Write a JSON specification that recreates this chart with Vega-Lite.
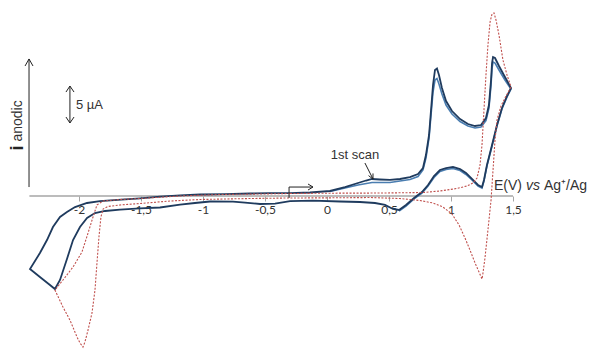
{
  "$schema": "https://vega.github.io/schema/vega-lite/v6.json",
  "width": 590,
  "height": 349,
  "padding": 0,
  "autosize": {"type": "none"},
  "background": "white",
  "config": {"view": {"stroke": null}},
  "datasets": {
    "cv": [
      {"s":"scan1","o":1,"v":-0.298,"i":0.39},{"s":"scan1","o":2,"v":-0.137,"i":0.46},{"s":"scan1","o":3,"v":0.024,"i":0.66},{"s":"scan1","o":4,"v":0.145,"i":1.18},{"s":"scan1","o":5,"v":0.25,"i":1.71},{"s":"scan1","o":6,"v":0.315,"i":2.04},{"s":"scan1","o":7,"v":0.363,"i":2.24},{"s":"scan1","o":8,"v":0.427,"i":2.17},{"s":"scan1","o":9,"v":0.508,"i":2.11},{"s":"scan1","o":10,"v":0.589,"i":2.24},
      {"s":"scan1","o":11,"v":0.669,"i":2.5},{"s":"scan1","o":12,"v":0.734,"i":2.89},{"s":"scan1","o":13,"v":0.774,"i":3.68},{"s":"scan1","o":14,"v":0.798,"i":5.39},{"s":"scan1","o":15,"v":0.823,"i":8.03},{"s":"scan1","o":16,"v":0.839,"i":11.32},{"s":"scan1","o":17,"v":0.855,"i":14.61},{"s":"scan1","o":18,"v":0.871,"i":16.58},{"s":"scan1","o":19,"v":0.887,"i":16.78},{"s":"scan1","o":20,"v":0.903,"i":15.92},
      {"s":"scan1","o":21,"v":0.927,"i":14.21},{"s":"scan1","o":22,"v":0.96,"i":12.5},{"s":"scan1","o":23,"v":1.008,"i":11.18},{"s":"scan1","o":24,"v":1.073,"i":10.13},{"s":"scan1","o":25,"v":1.137,"i":9.47},{"s":"scan1","o":26,"v":1.194,"i":9.21},{"s":"scan1","o":27,"v":1.242,"i":9.34},{"s":"scan1","o":28,"v":1.282,"i":10.26},{"s":"scan1","o":29,"v":1.306,"i":11.97},{"s":"scan1","o":30,"v":1.323,"i":15.26},
      {"s":"scan1","o":31,"v":1.331,"i":17.5},{"s":"scan1","o":32,"v":1.339,"i":18.29},{"s":"scan1","o":33,"v":1.355,"i":18.16},{"s":"scan1","o":34,"v":1.387,"i":17.11},{"s":"scan1","o":35,"v":1.435,"i":15.66},{"s":"scan1","o":36,"v":1.484,"i":14.21},{"s":"scan1","o":37,"v":1.452,"i":13.16},{"s":"scan1","o":38,"v":1.411,"i":11.58},{"s":"scan1","o":39,"v":1.371,"i":9.34},{"s":"scan1","o":40,"v":1.331,"i":6.71},
      {"s":"scan1","o":41,"v":1.29,"i":4.08},{"s":"scan1","o":42,"v":1.266,"i":2.11},{"s":"scan1","o":43,"v":1.25,"i":1.18},{"s":"scan1","o":44,"v":1.218,"i":1.45},{"s":"scan1","o":45,"v":1.169,"i":2.24},{"s":"scan1","o":46,"v":1.121,"i":3.03},{"s":"scan1","o":47,"v":1.073,"i":3.55},{"s":"scan1","o":48,"v":1.016,"i":3.82},{"s":"scan1","o":49,"v":0.96,"i":3.68},{"s":"scan1","o":50,"v":0.911,"i":3.42},
      {"s":"scan1","o":51,"v":0.863,"i":2.63},{"s":"scan1","o":52,"v":0.815,"i":1.45},{"s":"scan1","o":53,"v":0.766,"i":0.53},{"s":"scan1","o":54,"v":0.702,"i":-0.26},{"s":"scan1","o":55,"v":0.637,"i":-1.18},{"s":"scan1","o":56,"v":0.581,"i":-1.84},{"s":"scan1","o":57,"v":0.532,"i":-1.71},{"s":"scan1","o":58,"v":0.468,"i":-1.18},{"s":"scan1","o":59,"v":0.387,"i":-0.92},{"s":"scan1","o":60,"v":0.266,"i":-0.79},
      {"s":"scan1","o":61,"v":0.105,"i":-0.72},{"s":"scan1","o":62,"v":-0.113,"i":-0.62},{"s":"scan1","o":63,"v":-0.298,"i":-0.66},{"s":"scan1","o":64,"v":-0.419,"i":-0.99},{"s":"scan1","o":65,"v":-0.54,"i":-1.05},{"s":"scan1","o":66,"v":-0.661,"i":-0.86},{"s":"scan1","o":67,"v":-0.758,"i":-0.75},{"s":"scan1","o":68,"v":-0.944,"i":-0.72},{"s":"scan1","o":69,"v":-1.065,"i":-0.92},{"s":"scan1","o":70,"v":-1.185,"i":-1.12},
      {"s":"scan1","o":71,"v":-1.347,"i":-1.51},{"s":"scan1","o":72,"v":-1.508,"i":-1.64},{"s":"scan1","o":73,"v":-1.669,"i":-1.78},{"s":"scan1","o":74,"v":-1.79,"i":-1.97},{"s":"scan1","o":75,"v":-1.871,"i":-2.24},{"s":"scan1","o":76,"v":-1.935,"i":-2.89},{"s":"scan1","o":77,"v":-1.992,"i":-4.08},{"s":"scan1","o":78,"v":-2.048,"i":-5.79},{"s":"scan1","o":79,"v":-2.097,"i":-8.29},{"s":"scan1","o":80,"v":-2.153,"i":-11.05},
      {"s":"scan1","o":81,"v":-2.194,"i":-12.24},{"s":"scan1","o":82,"v":-2.234,"i":-11.71},{"s":"scan1","o":83,"v":-2.315,"i":-10.66},{"s":"scan1","o":84,"v":-2.395,"i":-9.61},{"s":"scan1","o":85,"v":-2.315,"i":-7.5},{"s":"scan1","o":86,"v":-2.258,"i":-5.79},{"s":"scan1","o":87,"v":-2.21,"i":-4.08},{"s":"scan1","o":88,"v":-2.153,"i":-2.76},{"s":"scan1","o":89,"v":-2.097,"i":-2.11},{"s":"scan1","o":90,"v":-2.032,"i":-1.45},
      {"s":"scan1","o":91,"v":-1.935,"i":-0.92},{"s":"scan1","o":92,"v":-1.831,"i":-0.66},{"s":"scan1","o":93,"v":-1.629,"i":-0.43},{"s":"scan1","o":94,"v":-1.508,"i":-0.3},{"s":"scan1","o":95,"v":-1.347,"i":-0.07},{"s":"scan1","o":96,"v":-1.185,"i":0.09},{"s":"scan1","o":97,"v":-1.024,"i":0.2},{"s":"scan1","o":98,"v":-0.823,"i":0.26},{"s":"scan1","o":99,"v":-0.621,"i":0.33},{"s":"scan1","o":100,"v":-0.46,"i":0.37},{"s":"scan1","o":101,"v":-0.298,"i":0.39},

      {"s":"scan2","o":1,"v":0.024,"i":0.59},{"s":"scan2","o":2,"v":0.145,"i":1.05},{"s":"scan2","o":3,"v":0.25,"i":1.45},{"s":"scan2","o":4,"v":0.363,"i":1.78},{"s":"scan2","o":5,"v":0.508,"i":1.78},{"s":"scan2","o":6,"v":0.669,"i":2.17},{"s":"scan2","o":7,"v":0.734,"i":2.57},{"s":"scan2","o":8,"v":0.774,"i":3.42},{"s":"scan2","o":9,"v":0.798,"i":5.0},{"s":"scan2","o":10,"v":0.823,"i":7.63},
      {"s":"scan2","o":11,"v":0.839,"i":10.66},{"s":"scan2","o":12,"v":0.855,"i":13.68},{"s":"scan2","o":13,"v":0.871,"i":15.26},{"s":"scan2","o":14,"v":0.887,"i":15.46},{"s":"scan2","o":15,"v":0.903,"i":14.74},{"s":"scan2","o":16,"v":0.927,"i":13.42},{"s":"scan2","o":17,"v":0.96,"i":11.97},{"s":"scan2","o":18,"v":1.008,"i":10.79},{"s":"scan2","o":19,"v":1.073,"i":9.8},{"s":"scan2","o":20,"v":1.137,"i":9.21},
      {"s":"scan2","o":21,"v":1.194,"i":8.95},{"s":"scan2","o":22,"v":1.242,"i":9.08},{"s":"scan2","o":23,"v":1.282,"i":9.93},{"s":"scan2","o":24,"v":1.306,"i":11.58},{"s":"scan2","o":25,"v":1.323,"i":14.61},{"s":"scan2","o":26,"v":1.331,"i":16.84},{"s":"scan2","o":27,"v":1.339,"i":17.63},{"s":"scan2","o":28,"v":1.355,"i":17.5},{"s":"scan2","o":29,"v":1.387,"i":16.58},{"s":"scan2","o":30,"v":1.435,"i":15.26},
      {"s":"scan2","o":31,"v":1.484,"i":14.08},{"s":"scan2","o":32,"v":1.452,"i":13.03},{"s":"scan2","o":33,"v":1.411,"i":11.45},{"s":"scan2","o":34,"v":1.371,"i":9.21},{"s":"scan2","o":35,"v":1.331,"i":6.58},{"s":"scan2","o":36,"v":1.29,"i":3.95},{"s":"scan2","o":37,"v":1.266,"i":1.97},{"s":"scan2","o":38,"v":1.25,"i":1.05},{"s":"scan2","o":39,"v":1.218,"i":1.32},{"s":"scan2","o":40,"v":1.169,"i":2.11},
      {"s":"scan2","o":41,"v":1.121,"i":2.83},{"s":"scan2","o":42,"v":1.073,"i":3.36},{"s":"scan2","o":43,"v":1.016,"i":3.62},{"s":"scan2","o":44,"v":0.96,"i":3.49},{"s":"scan2","o":45,"v":0.911,"i":3.22},{"s":"scan2","o":46,"v":0.863,"i":2.43},{"s":"scan2","o":47,"v":0.815,"i":1.32},{"s":"scan2","o":48,"v":0.766,"i":0.39},{"s":"scan2","o":49,"v":0.702,"i":-0.39},{"s":"scan2","o":50,"v":0.637,"i":-1.32},{"s":"scan2","o":51,"v":0.581,"i":-1.97},

      {"s":"red","o":1,"v":-0.298,"i":0.33},{"s":"red","o":2,"v":0.024,"i":0.37},{"s":"red","o":3,"v":0.427,"i":0.39},{"s":"red","o":4,"v":0.774,"i":0.46},{"s":"red","o":5,"v":0.911,"i":0.66},{"s":"red","o":6,"v":1.048,"i":0.99},{"s":"red","o":7,"v":1.129,"i":1.32},{"s":"red","o":8,"v":1.177,"i":1.71},{"s":"red","o":9,"v":1.21,"i":2.37},{"s":"red","o":10,"v":1.234,"i":4.08},
      {"s":"red","o":11,"v":1.25,"i":6.71},{"s":"red","o":12,"v":1.266,"i":11.32},{"s":"red","o":13,"v":1.282,"i":15.92},{"s":"red","o":14,"v":1.298,"i":19.87},{"s":"red","o":15,"v":1.315,"i":22.89},{"s":"red","o":16,"v":1.331,"i":23.95},{"s":"red","o":17,"v":1.347,"i":24.08},{"s":"red","o":18,"v":1.363,"i":23.16},{"s":"red","o":19,"v":1.387,"i":21.18},{"s":"red","o":20,"v":1.419,"i":17.89},
      {"s":"red","o":21,"v":1.452,"i":15.92},{"s":"red","o":22,"v":1.484,"i":14.34},{"s":"red","o":23,"v":1.444,"i":13.16},{"s":"red","o":24,"v":1.403,"i":11.84},{"s":"red","o":25,"v":1.371,"i":10.0},{"s":"red","o":26,"v":1.355,"i":7.37},{"s":"red","o":27,"v":1.339,"i":3.42},{"s":"red","o":28,"v":1.323,"i":-0.53},{"s":"red","o":29,"v":1.298,"i":-4.47},{"s":"red","o":30,"v":1.274,"i":-8.16},
      {"s":"red","o":31,"v":1.258,"i":-10.13},{"s":"red","o":32,"v":1.25,"i":-10.92},{"s":"red","o":33,"v":1.226,"i":-10.0},{"s":"red","o":34,"v":1.194,"i":-8.82},{"s":"red","o":35,"v":1.153,"i":-7.11},{"s":"red","o":36,"v":1.113,"i":-5.53},{"s":"red","o":37,"v":1.065,"i":-3.82},{"s":"red","o":38,"v":1.008,"i":-2.37},{"s":"red","o":39,"v":0.935,"i":-1.45},{"s":"red","o":40,"v":0.855,"i":-0.92},
      {"s":"red","o":41,"v":0.75,"i":-0.59},{"s":"red","o":42,"v":0.589,"i":-0.33},{"s":"red","o":43,"v":0.347,"i":-0.2},{"s":"red","o":44,"v":0.024,"i":-0.24},{"s":"red","o":45,"v":-0.298,"i":-0.26},{"s":"red","o":46,"v":-0.621,"i":-0.33},{"s":"red","o":47,"v":-1.024,"i":-0.46},{"s":"red","o":48,"v":-1.266,"i":-0.66},{"s":"red","o":49,"v":-1.508,"i":-0.99},{"s":"red","o":50,"v":-1.669,"i":-1.18},
      {"s":"red","o":51,"v":-1.766,"i":-1.38},{"s":"red","o":52,"v":-1.806,"i":-1.71},{"s":"red","o":53,"v":-1.823,"i":-2.76},{"s":"red","o":54,"v":-1.839,"i":-5.39},{"s":"red","o":55,"v":-1.855,"i":-8.82},{"s":"red","o":56,"v":-1.871,"i":-12.37},{"s":"red","o":57,"v":-1.895,"i":-15.39},{"s":"red","o":58,"v":-1.927,"i":-17.63},{"s":"red","o":59,"v":-1.952,"i":-19.21},{"s":"red","o":60,"v":-1.968,"i":-19.87},
      {"s":"red","o":61,"v":-1.992,"i":-19.34},{"s":"red","o":62,"v":-2.016,"i":-18.55},{"s":"red","o":63,"v":-2.073,"i":-16.32},{"s":"red","o":64,"v":-2.129,"i":-14.61},{"s":"red","o":65,"v":-2.194,"i":-12.37},{"s":"red","o":66,"v":-2.129,"i":-11.05},{"s":"red","o":67,"v":-2.048,"i":-9.34},{"s":"red","o":68,"v":-1.976,"i":-7.37},{"s":"red","o":69,"v":-1.927,"i":-4.87},{"s":"red","o":70,"v":-1.887,"i":-2.76},
      {"s":"red","o":71,"v":-1.855,"i":-1.18},{"s":"red","o":72,"v":-1.806,"i":-0.66},{"s":"red","o":73,"v":-1.669,"i":-0.46},{"s":"red","o":74,"v":-1.508,"i":-0.33},{"s":"red","o":75,"v":-1.185,"i":0.0},{"s":"red","o":76,"v":-0.863,"i":0.2},{"s":"red","o":77,"v":-0.54,"i":0.26},{"s":"red","o":78,"v":-0.298,"i":0.33}
    ],
    "ann": [
      {"v1":-2.403,"i1":1.18,"v2":-2.403,"i2":18.03},
      {"v1":-2.435,"i1":17.11,"v2":-2.403,"i2":18.03},
      {"v1":-2.371,"i1":17.11,"v2":-2.403,"i2":18.03},
      {"v1":-2.073,"i1":9.61,"v2":-2.073,"i2":14.47},
      {"v1":-2.105,"i1":13.68,"v2":-2.073,"i2":14.47},
      {"v1":-2.04,"i1":13.68,"v2":-2.073,"i2":14.47},
      {"v1":-2.105,"i1":10.39,"v2":-2.073,"i2":9.61},
      {"v1":-2.04,"i1":10.39,"v2":-2.073,"i2":9.61},
      {"v1":-0.306,"i1":-0.26,"v2":-0.306,"i2":1.18},
      {"v1":-0.306,"i1":1.18,"v2":-0.113,"i2":1.18},
      {"v1":-0.153,"i1":1.58,"v2":-0.113,"i2":1.18},
      {"v1":-0.153,"i1":0.79,"v2":-0.113,"i2":1.18},
      {"v1":0.306,"i1":4.34,"v2":0.371,"i2":2.24},
      {"v1":0.371,"i1":2.97,"v2":0.371,"i2":2.24},
      {"v1":0.335,"i1":2.68,"v2":0.371,"i2":2.24}
    ]
  },
  "layer": [
    {
      "data": {"values": [{}]},
      "mark": {"type": "rule", "color": "#a6a6a6", "strokeWidth": 1.5},
      "encoding": {
        "x": {"datum": -2.4, "type": "quantitative", "scale": {"domain": [-2.637, 2.121], "nice": false, "zero": false},
              "axis": {"values": [-2, -1.5, -1, -0.5, 0, 0.5, 1, 1.5], "offset": -153, "domain": false, "grid": false, "tickSize": 5, "tickColor": "#a6a6a6", "tickWidth": 1, "labelFont": "Lato", "labelFontSize": 12, "labelColor": "#333333", "labelPadding": 3, "labelExpr": "replace(toString(datum.value), '.', ',')", "title": null, "labelOverlap": false, "labelFlush": false}},
        "x2": {"datum": 1.5},
        "y": {"datum": 0, "type": "quantitative", "scale": {"domain": [-20.13, 25.79], "nice": false, "zero": false}, "axis": null}
      }
    },
    {
      "data": {"name": "cv"},
      "transform": [{"filter": "datum.s === 'scan2'"}],
      "mark": {"type": "line", "color": "#4a7db0", "strokeWidth": 1.6},
      "encoding": {
        "x": {"field": "v", "type": "quantitative", "scale": {"domain": [-2.637, 2.121], "nice": false, "zero": false},
              "axis": {"values": [-2, -1.5, -1, -0.5, 0, 0.5, 1, 1.5], "offset": -153, "domain": false, "grid": false, "tickSize": 5, "tickColor": "#a6a6a6", "tickWidth": 1, "labelFont": "Lato", "labelFontSize": 12, "labelColor": "#333333", "labelPadding": 3, "labelExpr": "replace(toString(datum.value), '.', ',')", "title": null, "labelOverlap": false, "labelFlush": false}},
        "y": {"field": "i", "type": "quantitative", "scale": {"domain": [-20.13, 25.79], "nice": false, "zero": false}, "axis": null},
        "order": {"field": "o", "type": "quantitative"}
      }
    },
    {
      "data": {"name": "cv"},
      "transform": [{"filter": "datum.s === 'scan1'"}],
      "mark": {"type": "line", "color": "#1f3b5e", "strokeWidth": 1.8},
      "encoding": {
        "x": {"field": "v", "type": "quantitative", "scale": {"domain": [-2.637, 2.121], "nice": false, "zero": false},
              "axis": {"values": [-2, -1.5, -1, -0.5, 0, 0.5, 1, 1.5], "offset": -153, "domain": false, "grid": false, "tickSize": 5, "tickColor": "#a6a6a6", "tickWidth": 1, "labelFont": "Lato", "labelFontSize": 12, "labelColor": "#333333", "labelPadding": 3, "labelExpr": "replace(toString(datum.value), '.', ',')", "title": null, "labelOverlap": false, "labelFlush": false}},
        "y": {"field": "i", "type": "quantitative", "scale": {"domain": [-20.13, 25.79], "nice": false, "zero": false}, "axis": null},
        "order": {"field": "o", "type": "quantitative"}
      }
    },
    {
      "data": {"name": "cv"},
      "transform": [{"filter": "datum.s === 'red'"}],
      "mark": {"type": "line", "color": "#c0504d", "strokeWidth": 1.1, "strokeDash": [2, 1.5]},
      "encoding": {
        "x": {"field": "v", "type": "quantitative", "scale": {"domain": [-2.637, 2.121], "nice": false, "zero": false},
              "axis": {"values": [-2, -1.5, -1, -0.5, 0, 0.5, 1, 1.5], "offset": -153, "domain": false, "grid": false, "tickSize": 5, "tickColor": "#a6a6a6", "tickWidth": 1, "labelFont": "Lato", "labelFontSize": 12, "labelColor": "#333333", "labelPadding": 3, "labelExpr": "replace(toString(datum.value), '.', ',')", "title": null, "labelOverlap": false, "labelFlush": false}},
        "y": {"field": "i", "type": "quantitative", "scale": {"domain": [-20.13, 25.79], "nice": false, "zero": false}, "axis": null},
        "order": {"field": "o", "type": "quantitative"}
      }
    },
    {
      "data": {"name": "ann"},
      "mark": {"type": "rule", "color": "#222222", "strokeWidth": 1},
      "encoding": {
        "x": {"field": "v1", "type": "quantitative", "scale": {"domain": [-2.637, 2.121], "nice": false, "zero": false},
              "axis": {"values": [-2, -1.5, -1, -0.5, 0, 0.5, 1, 1.5], "offset": -153, "domain": false, "grid": false, "tickSize": 5, "tickColor": "#a6a6a6", "tickWidth": 1, "labelFont": "Lato", "labelFontSize": 12, "labelColor": "#333333", "labelPadding": 3, "labelExpr": "replace(toString(datum.value), '.', ',')", "title": null, "labelOverlap": false, "labelFlush": false}},
        "x2": {"field": "v2"},
        "y": {"field": "i1", "type": "quantitative", "scale": {"domain": [-20.13, 25.79], "nice": false, "zero": false}, "axis": null},
        "y2": {"field": "i2"}
      }
    },
    {
      "data": {"values": [{}]},
      "mark": {"type": "text", "text": "1st scan", "font": "Liberation Sans", "fontSize": 13, "color": "#333333", "align": "center", "baseline": "middle"},
      "encoding": {
        "x": {"datum": 0.226, "type": "quantitative", "scale": {"domain": [-2.637, 2.121], "nice": false, "zero": false},
              "axis": {"values": [-2, -1.5, -1, -0.5, 0, 0.5, 1, 1.5], "offset": -153, "domain": false, "grid": false, "tickSize": 5, "tickColor": "#a6a6a6", "tickWidth": 1, "labelFont": "Lato", "labelFontSize": 12, "labelColor": "#333333", "labelPadding": 3, "labelExpr": "replace(toString(datum.value), '.', ',')", "title": null, "labelOverlap": false, "labelFlush": false}},
        "y": {"datum": 5.39, "type": "quantitative", "scale": {"domain": [-20.13, 25.79], "nice": false, "zero": false}, "axis": null}
      }
    },
    {
      "data": {"values": [{}]},
      "mark": {"type": "text", "text": "E(V)", "font": "Liberation Sans", "fontSize": 14, "color": "#333333", "align": "left", "baseline": "middle"},
      "encoding": {
        "x": {"datum": 1.347, "type": "quantitative", "scale": {"domain": [-2.637, 2.121], "nice": false, "zero": false},
              "axis": {"values": [-2, -1.5, -1, -0.5, 0, 0.5, 1, 1.5], "offset": -153, "domain": false, "grid": false, "tickSize": 5, "tickColor": "#a6a6a6", "tickWidth": 1, "labelFont": "Lato", "labelFontSize": 12, "labelColor": "#333333", "labelPadding": 3, "labelExpr": "replace(toString(datum.value), '.', ',')", "title": null, "labelOverlap": false, "labelFlush": false}},
        "y": {"datum": 1.32, "type": "quantitative", "scale": {"domain": [-20.13, 25.79], "nice": false, "zero": false}, "axis": null}
      }
    },
    {
      "data": {"values": [{}]},
      "mark": {"type": "text", "text": "vs", "font": "Liberation Sans", "fontStyle": "italic", "fontSize": 14, "color": "#333333", "align": "left", "baseline": "middle"},
      "encoding": {
        "x": {"datum": 1.605, "type": "quantitative", "scale": {"domain": [-2.637, 2.121], "nice": false, "zero": false},
              "axis": {"values": [-2, -1.5, -1, -0.5, 0, 0.5, 1, 1.5], "offset": -153, "domain": false, "grid": false, "tickSize": 5, "tickColor": "#a6a6a6", "tickWidth": 1, "labelFont": "Lato", "labelFontSize": 12, "labelColor": "#333333", "labelPadding": 3, "labelExpr": "replace(toString(datum.value), '.', ',')", "title": null, "labelOverlap": false, "labelFlush": false}},
        "y": {"datum": 1.32, "type": "quantitative", "scale": {"domain": [-20.13, 25.79], "nice": false, "zero": false}, "axis": null}
      }
    },
    {
      "data": {"values": [{}]},
      "mark": {"type": "text", "text": "Ag⁺/Ag", "font": "Liberation Sans", "fontSize": 14, "color": "#333333", "align": "left", "baseline": "middle"},
      "encoding": {
        "x": {"datum": 1.75, "type": "quantitative", "scale": {"domain": [-2.637, 2.121], "nice": false, "zero": false},
              "axis": {"values": [-2, -1.5, -1, -0.5, 0, 0.5, 1, 1.5], "offset": -153, "domain": false, "grid": false, "tickSize": 5, "tickColor": "#a6a6a6", "tickWidth": 1, "labelFont": "Lato", "labelFontSize": 12, "labelColor": "#333333", "labelPadding": 3, "labelExpr": "replace(toString(datum.value), '.', ',')", "title": null, "labelOverlap": false, "labelFlush": false}},
        "y": {"datum": 1.32, "type": "quantitative", "scale": {"domain": [-20.13, 25.79], "nice": false, "zero": false}, "axis": null}
      }
    },
    {
      "data": {"values": [{}]},
      "mark": {"type": "text", "text": "5 µA", "font": "Liberation Sans", "fontSize": 13, "color": "#333333", "align": "left", "baseline": "middle"},
      "encoding": {
        "x": {"datum": -2.024, "type": "quantitative", "scale": {"domain": [-2.637, 2.121], "nice": false, "zero": false},
              "axis": {"values": [-2, -1.5, -1, -0.5, 0, 0.5, 1, 1.5], "offset": -153, "domain": false, "grid": false, "tickSize": 5, "tickColor": "#a6a6a6", "tickWidth": 1, "labelFont": "Lato", "labelFontSize": 12, "labelColor": "#333333", "labelPadding": 3, "labelExpr": "replace(toString(datum.value), '.', ',')", "title": null, "labelOverlap": false, "labelFlush": false}},
        "y": {"datum": 11.97, "type": "quantitative", "scale": {"domain": [-20.13, 25.79], "nice": false, "zero": false}, "axis": null}
      }
    },
    {
      "data": {"values": [{}]},
      "mark": {"type": "text", "text": "anodic", "font": "Liberation Sans", "fontSize": 14, "color": "#333333", "align": "center", "baseline": "middle", "angle": 270},
      "encoding": {
        "x": {"datum": -2.492, "type": "quantitative", "scale": {"domain": [-2.637, 2.121], "nice": false, "zero": false},
              "axis": {"values": [-2, -1.5, -1, -0.5, 0, 0.5, 1, 1.5], "offset": -153, "domain": false, "grid": false, "tickSize": 5, "tickColor": "#a6a6a6", "tickWidth": 1, "labelFont": "Lato", "labelFontSize": 12, "labelColor": "#333333", "labelPadding": 3, "labelExpr": "replace(toString(datum.value), '.', ',')", "title": null, "labelOverlap": false, "labelFlush": false}},
        "y": {"datum": 9.87, "type": "quantitative", "scale": {"domain": [-20.13, 25.79], "nice": false, "zero": false}, "axis": null}
      }
    },
    {
      "data": {"values": [{}]},
      "mark": {"type": "text", "text": "i", "font": "Liberation Sans", "fontSize": 18, "fontWeight": "bold", "color": "#222222", "align": "center", "baseline": "middle", "angle": 270},
      "encoding": {
        "x": {"datum": -2.492, "type": "quantitative", "scale": {"domain": [-2.637, 2.121], "nice": false, "zero": false},
              "axis": {"values": [-2, -1.5, -1, -0.5, 0, 0.5, 1, 1.5], "offset": -153, "domain": false, "grid": false, "tickSize": 5, "tickColor": "#a6a6a6", "tickWidth": 1, "labelFont": "Lato", "labelFontSize": 12, "labelColor": "#333333", "labelPadding": 3, "labelExpr": "replace(toString(datum.value), '.', ',')", "title": null, "labelOverlap": false, "labelFlush": false}},
        "y": {"datum": 6.32, "type": "quantitative", "scale": {"domain": [-20.13, 25.79], "nice": false, "zero": false}, "axis": null}
      }
    }
  ]
}
